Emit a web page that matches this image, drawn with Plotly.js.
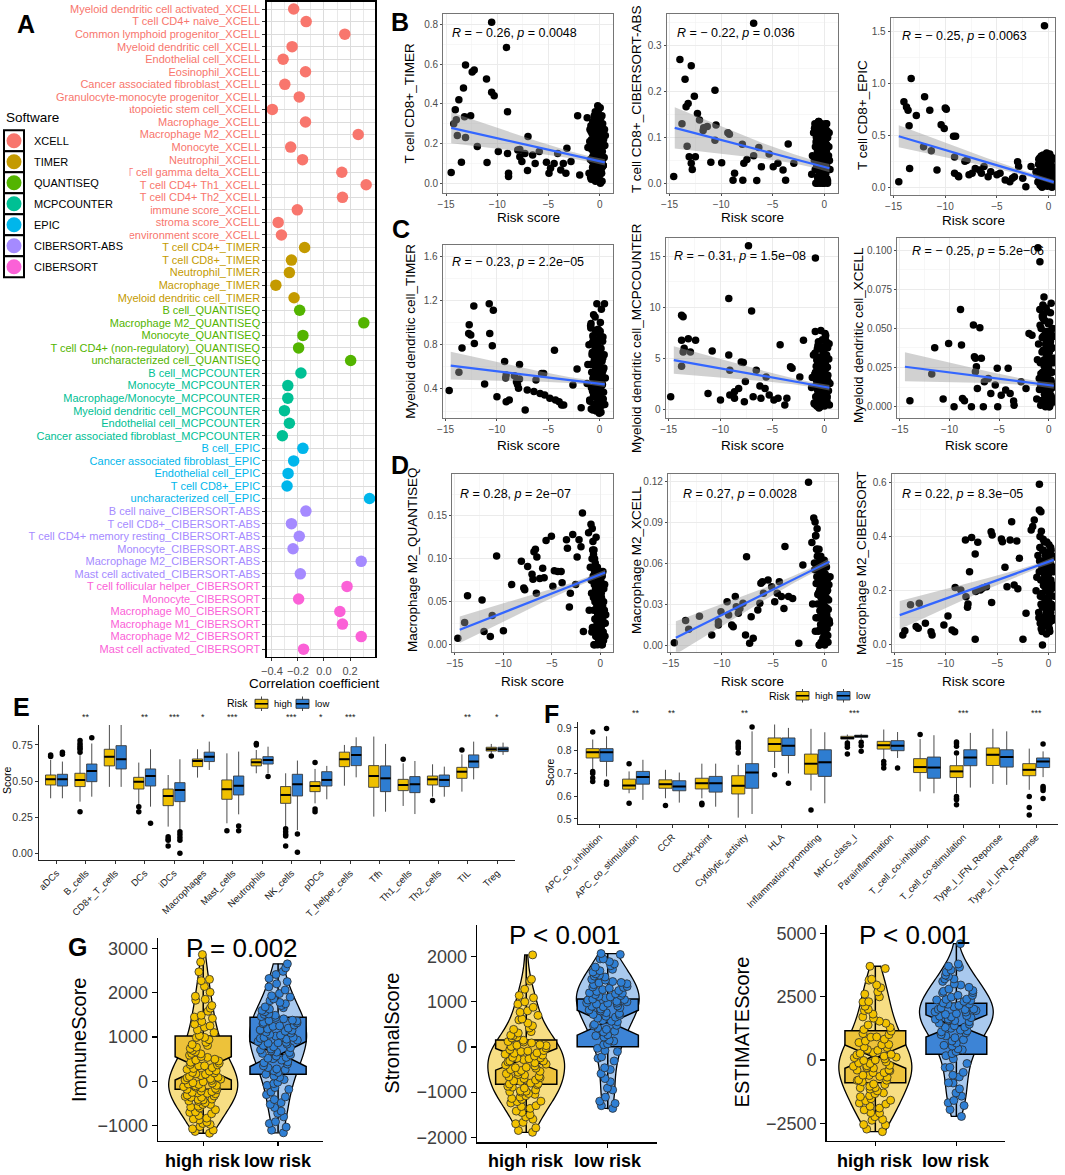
<!DOCTYPE html>
<html><head><meta charset="utf-8">
<script src="https://cdn.plot.ly/plotly-3.0.1.min.js"></script>
<style>body{margin:0;background:#fff}#chart{width:1065px;height:1175px}</style>
</head><body><div id="chart"></div>
<script>
const W=1065,H=1175;
const FONT='Liberation Sans, Arial, Helvetica, sans-serif';
function X(px){return px/W;}
function Y(py){return 1-py/H;}

// ---------------- Panel A data ----------------
const aLabels=['Myeloid dendritic cell activated_XCELL','T cell CD4+ naive_XCELL','Common lymphoid progenitor_XCELL','Myeloid dendritic cell_XCELL','Endothelial cell_XCELL','Eosinophil_XCELL','Cancer associated fibroblast_XCELL','Granulocyte-monocyte progenitor_XCELL','Hematopoietic stem cell_XCELL','Macrophage_XCELL','Macrophage M2_XCELL','Monocyte_XCELL','Neutrophil_XCELL','T cell gamma delta_XCELL','T cell CD4+ Th1_XCELL','T cell CD4+ Th2_XCELL','immune score_XCELL','stroma score_XCELL','microenvironment score_XCELL',
'T cell CD4+_TIMER','T cell CD8+_TIMER','Neutrophil_TIMER','Macrophage_TIMER','Myeloid dendritic cell_TIMER',
'B cell_QUANTISEQ','Macrophage M2_QUANTISEQ','Monocyte_QUANTISEQ','T cell CD4+ (non-regulatory)_QUANTISEQ','uncharacterized cell_QUANTISEQ',
'B cell_MCPCOUNTER','Monocyte_MCPCOUNTER','Macrophage/Monocyte_MCPCOUNTER','Myeloid dendritic cell_MCPCOUNTER','Endothelial cell_MCPCOUNTER','Cancer associated fibroblast_MCPCOUNTER',
'B cell_EPIC','Cancer associated fibroblast_EPIC','Endothelial cell_EPIC','T cell CD8+_EPIC','uncharacterized cell_EPIC',
'B cell naive_CIBERSORT-ABS','T cell CD8+_CIBERSORT-ABS','T cell CD4+ memory resting_CIBERSORT-ABS','Monocyte_CIBERSORT-ABS','Macrophage M2_CIBERSORT-ABS','Mast cell activated_CIBERSORT-ABS',
'T cell follicular helper_CIBERSORT','Monocyte_CIBERSORT','Macrophage M0_CIBERSORT','Macrophage M1_CIBERSORT','Macrophage M2_CIBERSORT','Mast cell activated_CIBERSORT'];
const aCorr=[-0.233,-0.137,0.16,-0.245,-0.314,-0.142,-0.301,-0.19,-0.397,-0.142,0.263,-0.256,-0.165,0.137,0.324,0.142,-0.205,-0.352,-0.327,
-0.149,-0.25,-0.266,-0.37,-0.23,
-0.187,0.306,-0.162,-0.195,0.205,
-0.177,-0.278,-0.278,-0.304,-0.266,-0.32,
-0.162,-0.233,-0.276,-0.284,0.35,
-0.139,-0.25,-0.19,-0.238,0.286,-0.182,
0.177,-0.195,0.122,0.142,0.286,-0.157];
const softwareNames=['XCELL','TIMER','QUANTISEQ','MCPCOUNTER','EPIC','CIBERSORT-ABS','CIBERSORT'];
const softwareColors=['#F8766D','#C49A00','#53B400','#00C094','#00B6EB','#A58AFF','#FB61D7'];

// ---------------- Panels B-D data ----------------
// risk scores of the dense group of samples near zero (same samples in every panel)
const clusterRisk=[-1.22,-1.04,-0.97,-0.91,-0.86,-0.82,-0.77,-0.74,-0.69,-0.66,
-0.63,-0.59,-0.56,-0.52,-0.49,-0.46,-0.43,-0.41,-0.37,-0.34,
-0.32,-0.29,-0.27,-0.24,-0.21,-0.19,-0.16,-0.13,-0.11,-0.08,
-0.06,-0.03,0.01,0.03,0.07,0.09,0.12,0.16,0.19,0.22,
0.27,0.31,0.35,0.41,0.47,0.55,-0.71,-0.53,-0.39,-0.22,
-0.09,0.05,0.14,0.24,-0.6,
-1.15,-0.95,-0.88,-0.8,-0.72,-0.67,-0.61,-0.57,-0.5,-0.44,-0.4,-0.35,-0.31,-0.26,-0.23,-0.18,-0.14,-0.1,-0.07,-0.04,-0.01,0.02,0.04,0.08,0.11,0.13,0.17,0.2,0.23,0.26,0.29,0.33,0.38,0.44,0.5,-0.84,-0.64,-0.47,-0.33,-0.2,-0.12,0.0,0.1,0.21,0.32];

const b1x=[-14.5,-14.25,-14.1,-14.0,-13.9,-13.75,-13.5,-13.3,-13.2,-13.1,-13.1,-12.6,-12.45,-12.25,-11.95,-11.05,-11.0,-10.55,-10.3,-10.55,-9.9,-9.1,-9.0,-9.0,-8.9,-8.9,-8.0,-7.8,-7.8,-7.6,-7.3,-7.0,-7.05,-6.55,-6.3,-5.9,-5.2,-4.95,-4.8,-4.45,-4.1,-3.8,-3.55,-3.3,-3.2,-2.8,-2.15,-1.95];
const b1y=[0.054,0.30,0.37,0.32,0.24,0.42,0.106,0.48,0.335,0.595,0.23,0.34,0.56,0.57,0.185,0.525,0.104,0.458,0.44,0.81,0.16,0.684,0.36,0.15,0.05,0.034,0.168,0.17,0.134,0.11,0.15,0.235,0.064,0.142,0.1,0.16,0.106,0.05,0.075,0.1,0.15,0.067,0.1,0.05,0.176,0.11,0.34,0.042];
const b1c=[0.33,0.05,0.21,0.12,0.29,0.02,0.17,0.25,0.08,0.31,0.14,0.22,0.04,0.27,0.11,0.19,0.36,0.01,0.24,0.09,0.15,0.3,0.06,0.2,0.13,0.39,0.03,0.26,0.1,0.18,0.23,0.07,0.32,0.14,0.0,0.28,0.16,0.21,0.05,0.34,0.12,0.25,0.09,0.19,0.27,0.24,0.11,0.34,0.06,0.28,0.13,0.38,0.2,0.08,0.17,
0.18,0.27,0.03,0.22,0.13,0.31,0.07,0.19,0.24,0.02,0.29,0.15,0.21,0.35,0.08,0.26,0.12,0.3,0.04,0.17,0.23,0.1,0.28,0.14,0.33,0.06,0.2,0.25,0.01,0.16,0.3,0.09,0.22,0.13,0.19,0.26,0.07,0.32,0.15,0.11,0.37,0.04,0.24,0.18,0.09];

const b2x=[-14.6,-14.0,-13.8,-13.5,-13.4,-13.3,-13.2,-13.1,-12.9,-12.9,-12.8,-12.6,-12.5,-12.3,-12.1,-11.75,-11.7,-11.35,-11.0,-10.6,-10.5,-10.6,-9.95,-9.35,-9.2,-8.85,-8.7,-7.95,-7.9,-7.8,-7.5,-6.85,-6.85,-6.55,-6.35,-6.1,-5.35,-4.95,-4.5,-4.0,-3.75,-3.5,-2.95];
const b2y=[0.015,0.27,0.13,0.227,0.167,0.081,0.174,0.058,0.044,0.256,0.03,0.19,0.058,0.152,0.138,0.115,0.121,0.124,0.046,0.203,0.127,0.094,0.045,0.11,0.107,0.007,0.022,0.085,0.007,0.044,0.052,0.349,0.06,0.006,0.078,0.036,0.064,0.036,0.044,0.029,0.007,0.086,0.044];
const b2c=[0.02,0.11,0.05,0.13,0.08,0.0,0.1,0.04,0.12,0.07,0.01,0.09,0.135,0.06,0.03,0.11,0.08,0.0,0.125,0.05,0.1,0.02,0.07,0.13,0.04,0.09,0.0,0.115,0.06,0.03,0.105,0.08,0.01,0.12,0.05,0.09,0.02,0.13,0.07,0.04,0.1,0.0,0.08,0.06,0.11,0.03,0.085,0.135,0.045,0.015,0.095,0.06,0.025,0.115,0.07,
0.06,0.12,0.03,0.09,0.11,0.0,0.07,0.13,0.04,0.1,0.02,0.08,0.12,0.05,0.095,0.01,0.065,0.11,0.035,0.085,0.0,0.125,0.055,0.09,0.02,0.105,0.04,0.075,0.13,0.01,0.06,0.1,0.03,0.08,0.05,0.115,0.015,0.07,0.095,0.045,0.025,0.12,0.055,0.085,0.005];

const b3x=[-14.5,-14.0,-13.75,-13.6,-13.5,-13.45,-13.3,-12.8,-12.1,-12.0,-11.5,-11.35,-10.8,-10.4,-10.1,-10.0,-9.9,-9.2,-9.0,-9.1,-9.1,-8.75,-8.7,-8.1,-7.9,-7.7,-7.4,-7.1,-6.7,-6.5,-6.25,-5.85,-5.6,-5.0,-4.7,-4.2,-3.75,-3.5,-3.3,-3.0,-2.9,-2.5,-2.2,-1.7,-0.4];
const b3y=[0.054,0.82,0.77,0.74,0.59,0.18,1.045,0.69,0.39,0.87,0.74,0.35,0.166,0.6,0.565,0.76,0.75,0.49,0.49,0.29,0.134,0.11,0.1,0.25,0.26,0.12,0.134,0.18,0.166,0.134,0.2,0.1,0.15,0.12,0.134,0.07,0.054,0.086,0.1,0.246,0.2,0.086,0.006,0.2,1.55];
const b3c=[0.15,0.05,0.22,0.1,0.28,0.02,0.18,0.08,0.25,0.12,0.0,0.2,0.06,0.31,0.14,0.03,0.17,0.24,0.09,0.11,0.27,0.04,0.19,0.13,0.07,0.33,0.16,0.01,0.21,0.1,0.05,0.26,0.14,0.08,0.18,0.02,0.23,0.12,0.06,0.29,0.15,0.09,0.2,0.03,0.11,0.07,0.3,0.17,0.04,0.13,0.22,0.08,0.16,0.1,0.25,
0.12,0.27,0.06,0.19,0.23,0.01,0.15,0.3,0.09,0.21,0.04,0.17,0.26,0.11,0.08,0.24,0.02,0.18,0.13,0.29,0.05,0.22,0.1,0.16,0.32,0.07,0.2,0.14,0.03,0.25,0.11,0.19,0.06,0.28,0.15,0.09,0.21,0.04,0.17,0.12,0.23,0.08,0.31,0.13,0.0];

const c1x=[-14.65,-13.7,-13.4,-12.7,-12.75,-12.55,-12.25,-12.2,-11.2,-10.75,-10.7,-10.45,-10.35,-10.0,-9.25,-9.1,-8.8,-9.15,-9.1,-8.3,-8.1,-8.0,-7.9,-7.8,-7.8,-7.25,-7.05,-6.4,-6.2,-5.8,-5.65,-5.45,-5.35,-4.85,-4.4,-4.3,-3.95,-3.7,-3.5,-2.6,-2.2,-1.8];
const c1y=[0.385,0.55,0.77,0.98,0.9,0.887,1.15,0.81,0.445,1.17,0.9,0.79,1.11,0.33,0.647,0.285,0.3,0.5,0.526,0.52,0.466,0.44,0.406,0.62,0.49,0.21,0.39,0.376,0.48,0.36,0.54,0.54,0.346,0.316,0.75,0.3,0.285,0.256,0.256,0.436,0.58,0.23];
const c1c=[0.45,0.8,0.3,0.62,0.95,0.22,0.55,0.71,0.38,0.88,0.5,1.07,0.26,0.66,0.42,0.78,0.33,0.93,0.58,0.2,0.69,0.47,1.17,0.36,0.84,0.52,0.28,0.74,0.6,0.4,0.9,0.18,0.64,0.48,1.0,0.35,0.76,0.56,0.25,0.86,0.44,0.68,0.31,0.59,1.17,0.5,0.82,0.39,0.72,0.24,0.63,0.92,0.46,0.54,0.34,
0.62,0.29,0.97,0.41,0.73,0.21,0.86,0.52,0.35,1.05,0.47,0.66,0.27,0.81,0.56,0.39,0.94,0.23,0.7,0.44,0.6,0.32,0.89,0.5,0.77,0.19,1.12,0.43,0.65,0.3,0.83,0.57,0.37,0.71,0.26,0.99,0.49,0.61,0.34,0.79,0.53,0.22,0.68,0.45,0.87];

const c2x=[-14.8,-13.75,-13.6,-13.75,-13.6,-13.75,-13.5,-13.1,-12.9,-12.4,-11.2,-10.8,-10.0,-9.2,-9.2,-9.1,-9.1,-8.65,-8.65,-8.25,-8.0,-7.8,-7.7,-7.6,-7.3,-7.0,-6.85,-6.55,-6.2,-6.1,-5.7,-5.6,-5.3,-4.85,-4.45,-4.25,-3.8,-3.6,-3.25,-3.1,-2.35,-2.0,-0.85];
const c2y=[1.2,9.2,9.05,6.75,5.6,4.2,5.95,6.9,5.6,6.75,1.53,5.7,0.88,10.85,5.3,3.8,1.37,1.7,1.05,2.0,4.6,4.55,0.72,2.7,16.0,9.6,1.2,3.8,2.25,1.05,2.0,3.15,1.37,0.88,1.05,6.3,0.4,1.05,4.15,4.0,3.15,6.75,14.8];
const c2c=[2.1,5.3,0.6,3.4,7.6,1.2,4.2,2.8,0.3,5.9,3.0,1.7,6.6,0.9,4.7,2.4,3.8,0.2,5.1,1.5,7.7,2.6,4.4,0.8,3.2,6.1,1.9,0.4,5.6,2.9,3.6,1.1,4.9,2.2,0.5,6.9,3.9,1.4,2.7,5.2,0.7,4.1,3.3,1.8,6.4,2.5,0.3,4.6,1.6,3.5,5.8,2.0,7.2,1.0,4.3,
3.1,0.5,5.5,2.3,4.8,1.3,6.2,3.7,0.1,2.9,4.5,1.8,5.0,0.6,3.4,6.8,2.0,4.0,1.0,5.7,2.6,0.3,3.9,7.4,1.5,4.4,2.2,0.8,5.3,3.0,1.2,6.0,2.7,4.9,0.4,3.6,1.9,5.9,2.4,0.9,4.2,3.3,1.6,6.6,2.8];

const c3x=[-14.0,-11.8,-11.5,-10.65,-10.1,-9.55,-8.9,-8.8,-8.7,-8.5,-7.8,-7.6,-7.5,-7.4,-7.3,-7.2,-7.4,-6.95,-6.8,-6.5,-6.6,-6.1,-5.85,-5.4,-5.2,-5.15,-4.8,-4.35,-4.1,-3.9,-3.55,-3.5,-2.8,-2.3,-2.0,-1.7,-1.1,-0.9];
const c3y=[0.0038,0.0209,0.0377,0.0049,0.0404,0.0,0.0621,0.0394,0.0053,0.0038,0.0,0.0521,0.0319,0.0309,0.0255,0.0117,0.0223,0.0504,0.0309,0.016,0.0,0.018,0.0085,0.0138,0.0245,0.0,0.0074,0.0106,0.0245,0.0085,0.0036,0.001,0.016,0.0117,0.0468,0.0457,0.1015,0.0926];
const c3c=[0.005,0.04,0.018,0.062,0.028,0.001,0.05,0.012,0.035,0.058,0.022,0.003,0.045,0.015,0.07,0.03,0.008,0.055,0.025,0.0,0.04,0.012,0.063,0.02,0.033,0.006,0.048,0.017,0.038,0.002,0.053,0.026,0.01,0.043,0.0,0.031,0.015,0.06,0.022,0.007,0.037,0.05,0.004,0.028,0.013,0.045,0.019,0.056,0.009,0.034,0.024,0.001,0.041,0.016,0.065,
0.03,0.011,0.052,0.021,0.004,0.044,0.016,0.036,0.059,0.008,0.027,0.048,0.002,0.039,0.019,0.061,0.013,0.032,0.005,0.046,0.024,0.0,0.035,0.054,0.01,0.029,0.042,0.017,0.066,0.006,0.038,0.022,0.05,0.003,0.031,0.014,0.057,0.026,0.009,0.043,0.02,0.034,0.001,0.047,0.012];

const d1x=[-14.7,-14.0,-13.7,-12.2,-12.0,-11.35,-11.15,-10.7,-10.0,-9.15,-8.15,-7.9,-7.8,-7.5,-7.05,-6.95,-6.85,-6.7,-6.6,-6.55,-6.25,-5.95,-5.8,-5.6,-5.05,-4.9,-4.75,-4.4,-4.05,-3.95,-3.5,-3.4,-3.1,-3.2,-2.85,-2.55,-2.4,-2.2,-2.0,-1.85,-1.75];
const d1y=[0.0077,0.026,0.057,0.052,0.0155,0.0097,0.034,0.103,0.0162,0.07,0.097,0.066,0.064,0.091,0.082,0.076,0.108,0.111,0.06,0.102,0.077,0.089,0.078,0.121,0.126,0.068,0.086,0.085,0.085,0.072,0.122,0.112,0.06,0.044,0.128,0.07,0.102,0.122,0.114,0.153,0.0155];
const d1c=[0.13,0.09,0.14,0.06,0.1,0.02,0.12,0.08,0.04,0.11,0.07,0.0,0.05,0.09,0.03,0.065,0.01,0.08,0.045,0.025,0.06,0.0,0.035,0.075,0.015,0.05,0.085,0.03,0.005,0.055,0.04,0.02,0.07,0.01,0.045,0.06,0.0,0.03,0.08,0.015,0.05,0.025,0.065,0.04,0.01,0.035,0.105,0.095,0.055,0.02,0.045,0.005,0.07,0.03,0.1,
0.04,0.075,0.015,0.11,0.055,0.0,0.085,0.03,0.065,0.125,0.02,0.05,0.09,0.035,0.07,0.005,0.045,0.08,0.025,0.06,0.01,0.04,0.075,0.02,0.055,0.03,0.065,0.0,0.045,0.085,0.015,0.05,0.035,0.07,0.025,0.135,0.06,0.01,0.04,0.08,0.02,0.055,0.03,0.065,0.005];

const d2x=[-14.65,-13.55,-13.25,-12.2,-11.0,-10.35,-10.35,-10.1,-9.5,-9.35,-9.05,-8.9,-8.7,-8.6,-8.4,-8.25,-7.95,-7.6,-7.7,-7.3,-7.15,-6.95,-6.5,-6.3,-6.2,-6.05,-5.95,-5.5,-5.15,-4.85,-4.6,-4.4,-4.2,-3.95,-3.85,-3.5,-3.1,-2.5,-2.1,-1.55];
const d2y=[0.0017,0.018,0.0115,0.021,0.0073,0.017,0.0146,0.0244,0.0317,0.022,0.0146,0.0134,0.0354,0.028,0.0232,0.0268,0.0305,0.0646,0.0073,0.0012,0.0207,0.0049,0.0256,0.0305,0.0451,0.0463,0.0378,0.0476,0.0427,0.0317,0.0378,0.0463,0.0354,0.0268,0.072,0.0354,0.0341,0.0012,0.0585,0.119];
const d2c=[0.075,0.093,0.06,0.09,0.08,0.02,0.07,0.05,0.065,0.03,0.055,0.01,0.045,0.06,0.0,0.04,0.025,0.052,0.015,0.035,0.002,0.048,0.028,0.062,0.01,0.038,0.02,0.055,0.005,0.042,0.03,0.015,0.05,0.0,0.035,0.022,0.058,0.008,0.045,0.027,0.012,0.04,0.002,0.033,0.018,0.05,0.085,0.07,0.042,0.024,0.036,0.006,0.047,0.016,0.065,
0.03,0.055,0.01,0.045,0.07,0.02,0.06,0.038,0.0,0.05,0.025,0.065,0.012,0.042,0.032,0.058,0.005,0.047,0.018,0.036,0.062,0.009,0.028,0.052,0.015,0.04,0.003,0.057,0.022,0.034,0.048,0.007,0.026,0.044,0.016,0.08,0.037,0.011,0.053,0.023,0.031,0.046,0.004,0.039,0.019];

const d3x=[-14.2,-14.0,-13.45,-12.9,-12.7,-12.6,-12.0,-11.45,-11.35,-10.2,-9.8,-9.4,-9.15,-9.1,-8.55,-8.1,-8.05,-7.9,-7.85,-7.7,-7.5,-7.15,-7.15,-7.1,-6.9,-6.65,-6.45,-6.05,-5.6,-5.5,-5.55,-4.6,-4.5,-4.25,-4.05,-3.75,-3.6,-3.35,-3.1,-3.0,-2.85,-2.5,-2.2,-1.7,-1.55,-1.4,-0.9,-0.9,-0.75];
const d3y=[0.037,0.052,0.148,0.068,0.062,0.154,0.08,0.049,0.037,0.074,0.107,0.055,0.049,0.212,0.203,0.387,0.178,0.139,0.151,0.27,0.397,0.336,0.021,0.197,0.379,0.203,0.209,0.215,0.418,0.406,0.157,0.391,0.381,0.287,0.215,0.387,0.455,0.221,0.384,0.207,0.32,0.021,0.117,0.424,0.437,0.461,0.593,0.498,0.492];
const d3c=[0.2,0.33,0.12,0.27,0.36,0.08,0.24,0.15,0.31,0.19,0.05,0.28,0.1,0.35,0.22,0.14,0.38,0.07,0.25,0.17,0.3,0.11,0.21,0.34,0.04,0.26,0.16,0.29,0.09,0.23,0.32,0.13,0.18,0.37,0.06,0.27,0.2,0.12,0.3,0.24,0.15,0.33,0.1,0.22,0.28,0.18,0.42,0.39,0.26,0.14,0.31,0.08,0.2,0.35,0.0,
0.25,0.1,0.31,0.18,0.06,0.29,0.14,0.35,0.22,0.09,0.27,0.16,0.33,0.2,0.12,0.38,0.24,0.07,0.3,0.17,0.26,0.11,0.34,0.19,0.05,0.28,0.13,0.36,0.23,0.15,0.32,0.09,0.21,0.27,0.14,0.4,0.18,0.3,0.08,0.25,0.33,0.16,0.22,0.12,0.29];

// fitted regression lines and 95% bands
const fitX=[-14.5,-10,-6,-3,-1,0.5];
const b1Fit=[0.279,0.227,0.180,0.145,0.122,0.105], b1Lo=[0.201,0.175,0.150,0.127,0.108,0.089], b1Hi=[0.357,0.279,0.210,0.163,0.136,0.121];
const b2Fit=[0.121,0.095,0.071,0.054,0.042,0.033], b2Lo=[0.076,0.065,0.054,0.044,0.034,0.024], b2Hi=[0.166,0.125,0.088,0.064,0.050,0.042];
const b3Fit=[0.49,0.358,0.241,0.153,0.094,0.05], b3Lo=[0.385,0.288,0.201,0.129,0.076,0.03], b3Hi=[0.595,0.428,0.281,0.177,0.112,0.07];
const c1Fit=[0.61,0.56,0.515,0.481,0.459,0.442], c1Lo=[0.485,0.477,0.467,0.453,0.437,0.417], c1Hi=[0.735,0.643,0.563,0.509,0.481,0.467];
const c2Fit=[4.8,3.99,3.27,2.72,2.36,2.09], c2Lo=[3.45,3.09,2.75,2.42,2.12,1.82], c2Hi=[6.15,4.89,3.79,3.02,2.6,2.36];
const c3Fit=[0.0255,0.0219,0.0187,0.0162,0.0146,0.0134], c3Lo=[0.0162,0.0157,0.0151,0.0141,0.0129,0.0115], c3Hi=[0.0348,0.0281,0.0223,0.0183,0.0163,0.0153];
const d1Fit=[0.0175,0.0374,0.0551,0.0684,0.0773,0.0839], d1Lo=[0.002,0.0269,0.0491,0.0649,0.0745,0.0807], d1Hi=[0.033,0.0479,0.0611,0.0719,0.0801,0.0871];
const d2Fit=[0.0053,0.022,0.0368,0.048,0.0554,0.061], d2Lo=[-0.0067,0.014,0.0322,0.0453,0.0533,0.0586], d2Hi=[0.0173,0.03,0.0414,0.0507,0.0575,0.0634];
const d3Fit=[0.11,0.171,0.226,0.266,0.293,0.314], d3Lo=[0.058,0.136,0.206,0.254,0.284,0.303], d3Hi=[0.162,0.206,0.246,0.278,0.302,0.325];

const corrLabels=['<i>R</i> = − 0.26, <i>p</i> = 0.0048','<i>R</i> = − 0.22, <i>p</i> = 0.036','<i>R</i> = − 0.25, <i>p</i> = 0.0063',
'<i>R</i> = − 0.23, <i>p</i> = 2.2e−05','<i>R</i> = − 0.31, <i>p</i> = 1.5e−08','<i>R</i> = − 0.25, <i>p</i> = 5.2e−06',
'<i>R</i> = 0.28, <i>p</i> = 2e−07','<i>R</i> = 0.27, <i>p</i> = 0.0028','<i>R</i> = 0.22, <i>p</i> = 8.3e−05'];
const cellTitles=['T cell CD8+_TIMER','T cell CD8+_CIBERSORT-ABS','T cell CD8+_EPIC','Myeloid dendritic cell_TIMER','Myeloid dendritic cell_MCPCOUNTER','Myeloid dendritic cell_XCELL','Macrophage M2_QUANTISEQ','Macrophage M2_XCELL','Macrophage M2_CIBERSORT'];

// ---------------- Panel E data ----------------
const eCats=['aDCs','B_cells','CD8+_T_cells','DCs','iDCs','Macrophages','Mast_cells','Neutrophils','NK_cells','pDCs','T_helper_cells','Tfh','Th1_cells','Th2_cells','TIL','Treg'];
const eStars=['','**','','**','***','*','***','','***','*','***','','','','**','*'];
const eHighQ1=[0.473,0.462,0.605,0.445,0.33,0.6,0.374,0.605,0.346,0.427,0.60,0.457,0.434,0.473,0.519,0.708];
const eHighMed=[0.512,0.508,0.669,0.496,0.397,0.639,0.443,0.63,0.404,0.466,0.651,0.535,0.473,0.512,0.565,0.72];
const eHighQ3=[0.542,0.554,0.72,0.526,0.445,0.653,0.508,0.653,0.462,0.496,0.70,0.607,0.512,0.535,0.595,0.734];
const eHighLo=[0.381,0.358,0.46,0.335,0.185,0.524,0.208,0.554,0.185,0.346,0.468,0.254,0.328,0.392,0.427,0.692];
const eHighHi=[0.646,0.68,0.888,0.628,0.542,0.72,0.692,0.715,0.554,0.584,0.75,0.808,0.623,0.616,0.685,0.757];
const eHighOut=[[0.68,0.67],[0.78,0.76,0.745,0.73,0.72,0.70,0.288],[],[0.323,0.288],[0.115,0.10,0.09,0.05],[],[0.157],[0.76,0.75],[0.17,0.15,0.13,0.12,0.05],[0.628,0.307,0.288],[],[],[0.651],[0.365],[0.715],[0.674]];
const eLowQ1=[0.466,0.496,0.584,0.466,0.358,0.635,0.404,0.618,0.397,0.466,0.607,0.427,0.42,0.462,0.593,0.704];
const eLowMed=[0.512,0.57,0.651,0.535,0.438,0.669,0.468,0.646,0.478,0.508,0.681,0.519,0.478,0.508,0.635,0.72];
const eLowQ3=[0.547,0.618,0.745,0.584,0.489,0.70,0.535,0.669,0.547,0.565,0.738,0.605,0.531,0.542,0.681,0.734];
const eLowLo=[0.381,0.392,0.46,0.323,0.16,0.577,0.27,0.554,0.16,0.374,0.526,0.288,0.272,0.392,0.512,0.681];
const eLowHi=[0.635,0.76,0.888,0.72,0.651,0.773,0.704,0.738,0.642,0.605,0.803,0.757,0.639,0.60,0.773,0.766];
const eLowOut=[[0.70,0.685],[0.80],[],[0.208],[0.15,0.13,0.11,0.09,0.0],[],[0.19,0.157],[0.531],[0.134,0.007],[],[],[],[],[],[],[]];

// ---------------- Panel F data ----------------
const fCats=['APC_co_inhibition','APC_co_stimulation','CCR','Check-point','Cytolytic_activity','HLA','Inflammation-promoting','MHC_class_I','Parainflammation','T_cell_co-inhibition','T_cell_co-stimulation','Type_I_IFN_Reponse','Type_II_IFN_Reponse'];
const fStars=['','**','**','','**','','','***','','','***','','***'];
const fHighQ1=[0.768,0.631,0.635,0.632,0.61,0.797,0.697,0.851,0.807,0.704,0.682,0.735,0.69];
const fHighMed=[0.793,0.647,0.653,0.657,0.646,0.829,0.743,0.856,0.824,0.728,0.709,0.782,0.716];
const fHighQ3=[0.809,0.675,0.672,0.679,0.69,0.856,0.785,0.863,0.841,0.765,0.734,0.812,0.743];
const fHighLo=[0.716,0.613,0.591,0.591,0.506,0.724,0.625,0.841,0.76,0.621,0.613,0.654,0.628];
const fHighHi=[0.849,0.709,0.716,0.743,0.738,0.915,0.896,0.871,0.893,0.851,0.778,0.896,0.809];
const fHighOut=[[0.882,0.709,0.70,0.68,0.665],[0.743,0.569],[0.559],[0.569,0.562],[0.837,0.83,0.82,0.81,0.79],[0.694],[0.54],[0.834,0.825,0.815,0.785],[0.753,0.74,0.724],[0.871],[0.838,0.83,0.82,0.79,0.599,0.59,0.585,0.562],[],[0.599,0.551,0.518]];
const fLowQ1=[0.753,0.653,0.624,0.618,0.635,0.779,0.687,0.859,0.80,0.679,0.734,0.728,0.726];
const fLowMed=[0.793,0.684,0.643,0.657,0.704,0.822,0.749,0.863,0.822,0.726,0.77,0.772,0.753];
const fLowQ3=[0.809,0.709,0.668,0.687,0.743,0.856,0.804,0.868,0.844,0.772,0.804,0.804,0.768];
const fLowLo=[0.687,0.584,0.572,0.554,0.522,0.70,0.569,0.849,0.768,0.613,0.638,0.65,0.684];
const fLowHi=[0.863,0.76,0.704,0.743,0.885,0.90,0.881,0.874,0.882,0.868,0.878,0.885,0.797];
const fLowOut=[[0.897,0.662,0.653],[],[],[],[0.904],[0.657],[],[0.837,0.822,0.797],[0.724],[],[],[],[0.829,0.643,0.635,0.625,0.59]];

// ---------------- Panel G data ----------------
const gCats=['high risk','low risk'];
const immuneHigh=[2860,2690,2470,2270,2140,2010,1920,1830,1710,1650,1580,1490,1420,1350,1290,1220,1160,1100,1030,990,940,880,830,770,740,670,630,590,540,500,460,430,380,350,310,270,230,200,160,110,90,50,20,-10,-40,-70,-100,-120,-160,-190,-220,-250,-270,-310,-340,-360,-410,-440,-480,-520,-560,-600,-640,-690,-730,-770,-830,-870,-920,-970,-1020,-1070,-1130,-1170,170,370,560,30,-130,-360,
620,480,350,240,130,60,-30,-90,-150,-230,-280,-330,-400,-450,-520,-580,810,700,410,290,190,80,-60,-180,-260,-420,-700,-850,1250,1450,1850,2300,-950,-1100,990];
const immuneLow=[2650,2560,2410,2320,2200,2130,2060,1980,1930,1860,1820,1750,1710,1660,1600,1570,1510,1490,1440,1380,1360,1300,1270,1240,1180,1160,1110,1060,1040,990,950,930,870,840,810,760,710,690,630,600,540,510,440,390,350,280,240,160,120,40,-20,-90,-140,-240,-300,-410,-480,-590,-670,-800,-910,-1030,-1160,1460,1250,1090,880,660,1630,1330,
1520,1410,1320,1200,1130,1020,970,900,780,730,650,570,480,420,310,200,90,-50,-180,1680,1780,1900,2250,-350,-520,-720,-950,1150,860,520,260,2480,-1100,1370,990];
const stromalHigh=[2040,1500,1460,1140,1090,950,880,770,700,620,530,470,390,340,260,220,150,110,50,30,-20,-80,-100,-160,-180,-240,-250,-310,-330,-380,-400,-450,-470,-520,-540,-590,-610,-660,-680,-730,-750,-800,-820,-870,-890,-950,-970,-1030,-1050,-1110,-1140,-1210,-1240,-1320,-1360,-1450,-1500,-1600,-1670,-1790,-1890,-460,-310,-650,-810,-130,90,-990,-1160,310,
-200,-260,-140,-60,10,120,200,-350,-420,-500,-560,-620,-700,-760,-840,-910,-980,-1080,-1200,-1300,-1420,-1550,-1700,-1850,-280,-230,-90,40,250,420,600,800,1000,1280,-1000];
const stromalLow=[2070,2050,1950,1890,1800,1770,1690,1660,1590,1570,1500,1480,1420,1400,1340,1320,1270,1250,1190,1180,1120,1110,1050,1040,980,970,910,890,840,820,760,740,680,660,590,570,500,470,390,350,270,220,130,70,-30,-100,-220,-310,-460,-590,-770,-910,-1110,-1250,-1360,1140,1330,970,1430,1060,
1620,1550,1450,1380,1300,1230,1160,1090,1010,950,870,800,720,640,560,480,420,330,250,150,50,-80,-250,-500,-700,-950,-1200,-1300,1720,1840,1950,1000,1200,900,700];
const estimateHigh=[3700,3610,3190,2960,2690,2490,2290,2120,1950,1810,1650,1530,1380,1280,1140,1040,910,820,690,610,490,410,290,220,110,40,-70,-140,-250,-320,-430,-500,-610,-680,-790,-860,-970,-1040,-1150,-1220,-1330,-1410,-1530,-1610,-1740,-1830,-1970,-2080,-2240,-2380,-2570,-2730,-2830,-390,-810,-1090,90,510,-210,-1590,
380,260,150,-20,-120,-230,-300,600,750,900,1200,1450,1700,2000,2300,2600,2850,3150,-500,-650,-800,-950,-1100,-1300,-1450,-1700,-1900,-2100,-2350,-2550,0,200,-400,1000,-600];
const estimateLow=[4590,3790,3660,3470,3350,3200,3100,2960,2870,2740,2660,2550,2480,2370,2310,2210,2150,2050,1990,1890,1830,1730,1670,1570,1510,1410,1350,1250,1180,1070,1000,880,800,670,580,440,330,170,40,-140,-290,-490,-670,-910,-1140,-1430,-1690,-1960,-2230,2010,2390,1610,1290,2710,1110,
1900,1800,1700,1620,2000,2100,2250,2400,2550,2650,2800,3000,3300,3550,3700,1450,1300,1150,950,750,550,400,250,-300,-600,-900,-1300,-1600,-1800,2200,1750,1950,2350,1550,3200];
// box statistics: [high, low]
const gQ1={immune:[-180,158], stromal:[-827,7], estimate:[-895,223]};
const gMed={immune:[293,617], stromal:[-273,539], estimate:[131,1342]};
const gQ3={immune:[1023,1443], stromal:[155,1063], estimate:[1158,2236]};
const gLoW={immune:[-1170,-1150], stromal:[-1890,-1380], estimate:[-2830,-2238]};
const gHiW={immune:[2850,2650], stromal:[2037,2074], estimate:[3684,4590]};
const gNotch={immune:[263,282], stromal:[240,277], estimate:[460,440]};
const gPvals=['P = 0.002','P < 0.001','P < 0.001'];
const gTitles=['ImmuneScore','StromalScore','ESTIMATEScore'];

// ---------------- build ----------------
const data=[];
const shapes=[];
const annotations=[];
function ann(x,y,text,size,o){
  return Object.assign({xref:'paper',yref:'paper',x:X(x),y:Y(y),text:text,showarrow:false,
    font:{size:size,color:'black',family:FONT},xanchor:'center',yanchor:'middle'},o||{});
}
const layout={width:W,height:H,margin:{l:0,r:0,t:0,b:0},paper_bgcolor:'white',plot_bgcolor:'white',
  font:{family:FONT,color:'black'},showlegend:false,boxmode:'overlay',violinmode:'overlay',hovermode:false};

// Panel A
const aColor=aLabels.map(l=>softwareColors[softwareNames.indexOf(l.slice(l.lastIndexOf('_')+1))]);
data.push({type:'scatter',mode:'markers',x:aCorr,y:aLabels.map((_,i)=>i),xaxis:'x',yaxis:'y',
  marker:{size:11.5,color:aColor},cliponaxis:false});
layout.xaxis={domain:[X(267),X(375)],range:[-0.438,0.392],anchor:'y',tickmode:'linear',tick0:0,dtick:0.2,tickformat:'.1f',
  ticks:'outside',ticklen:3,tickcolor:'#333',tickfont:{size:11,color:'#4D4D4D'},showgrid:true,gridcolor:'#DCDCDC',gridwidth:1,
  minor:{dtick:0.1,tick0:0,showgrid:true,gridcolor:'#E4E4E4',gridwidth:0.8},
  showline:true,mirror:true,linecolor:'black',linewidth:1.6,zeroline:false};
layout.yaxis={domain:[Y(656.7),Y(1.5)],range:[51.6,-0.6],anchor:'x',tickmode:'array',tickvals:aLabels.map((_,i)=>i),
  ticktext:aLabels.map((l,i)=>'<span style="color:'+aColor[i]+'">'+l+'</span>'),
  ticks:'outside',ticklen:3,tickcolor:'#333',tickfont:{size:11},showgrid:true,gridcolor:'#DCDCDC',gridwidth:1,
  showline:true,mirror:true,linecolor:'black',linewidth:1.6,zeroline:false};
annotations.push(ann(314,683,'Correlation coefficient',13.5));
// legend for A (drawn on top of clipped labels)
shapes.push({type:'rect',xref:'paper',yref:'paper',x0:X(0),x1:X(129.5),y0:Y(102),y1:Y(283),fillcolor:'white',line:{width:0},layer:'above'});
annotations.push(ann(4,117,'Software',13.5,{xanchor:'left'}));
softwareNames.forEach((s,i)=>{
  const c=140.7+i*21;
  shapes.push({type:'rect',xref:'paper',yref:'paper',x0:X(4),x1:X(24),y0:Y(c+10.5),y1:Y(c-10.5),fillcolor:'white',line:{color:'black',width:2},layer:'above'});
  shapes.push({type:'circle',xref:'paper',yref:'paper',x0:X(14-7.5),x1:X(14+7.5),y0:Y(c+7.5),y1:Y(c-7.5),fillcolor:softwareColors[i],line:{width:0},layer:'above'});
  annotations.push(ann(32,c,s,11,{xanchor:'left'}));
});

// Panels B-D
const scatterCfg=[
 {xd:[443,613],yd:[14,193],xr:[-15.3,1.3],yr:[-0.049,0.852],dt:0.2,t0:0,fmt:'.1f',px:b1x,py:b1y,cy:b1c,f:b1Fit,lo:b1Lo,hi:b1Hi,tp:[450,33],yt:[409,103.5],xt:[528,218]},
 {xd:[666.5,837.7],yd:[14,193],xr:[-15.3,1.3],yr:[-0.021,0.369],dt:0.1,t0:0,fmt:'.1f',px:b2x,py:b2y,cy:b2c,f:b2Fit,lo:b2Lo,hi:b2Hi,tp:[675,33],yt:[636,100],xt:[752,218]},
 {xd:[890.5,1055],yd:[18,195],xr:[-15.3,0.62],yr:[-0.074,1.625],dt:0.5,t0:0,fmt:'.1f',px:b3x,py:b3y,cy:b3c,f:b3Fit,lo:b3Lo,hi:b3Hi,tp:[900,36],yt:[862,115],xt:[973,221]},
 {xd:[442.5,613],yd:[245,418.3],xr:[-15.3,1.3],yr:[0.135,1.70],dt:0.4,t0:0.4,fmt:'.1f',px:c1x,py:c1y,cy:c1c,f:c1Fit,lo:c1Lo,hi:c1Hi,tp:[450,261.7],yt:[411,331.7],xt:[528,446]},
 {xd:[665.5,837.7],yd:[237.7,418.3],xr:[-15.3,1.3],yr:[-0.91,16.8],dt:5,t0:0,fmt:'d',px:c2x,py:c2y,cy:c2c,f:c2Fit,lo:c2Lo,hi:c2Hi,tp:[672,256],yt:[636,338],xt:[752,446]},
 {xd:[897,1055],yd:[238.3,417.7],xr:[-15.3,0.62],yr:[-0.007,0.1075],dt:0.025,t0:0,fmt:'.3f',px:c3x,py:c3y,cy:c3c,f:c3Fit,lo:c3Lo,hi:c3Hi,tp:[910,250.7],yt:[858,335],xt:[976,446]},
 {xd:[452,613],yd:[474.3,651.7],xr:[-15.3,1.3],yr:[-0.008,0.198],dt:0.05,t0:0,fmt:'.2f',px:d1x,py:d1y,cy:d1c,f:d1Fit,lo:d1Lo,hi:d1Hi,tp:[458,494],yt:[412,560],xt:[532,681]},
 {xd:[667.7,837.7],yd:[474.3,651.7],xr:[-15.3,1.3],yr:[-0.0049,0.1249],dt:0.03,t0:0,fmt:'.2f',px:d2x,py:d2y,cy:d2c,f:d2Fit,lo:d2Lo,hi:d2Hi,tp:[681,494],yt:[636,560],xt:[752,681]},
 {xd:[891.5,1055],yd:[474.3,651.7],xr:[-15.3,0.62],yr:[-0.025,0.63],dt:0.2,t0:0,fmt:'.1f',px:d3x,py:d3y,cy:d3c,f:d3Fit,lo:d3Lo,hi:d3Hi,tp:[900,494],yt:[861,563],xt:[973,681]}
];
scatterCfg.forEach((c,k)=>{
  const n=k+2, xa='x'+n, ya='y'+n;
  data.push({type:'scatter',mode:'markers',x:c.px.concat(clusterRisk),y:c.py.concat(c.cy),xaxis:xa,yaxis:ya,
    marker:{size:7.5,color:'black'}});
  data.push({type:'scatter',mode:'lines',x:fitX.concat(fitX.slice().reverse()),y:c.hi.concat(c.lo.slice().reverse()),
    xaxis:xa,yaxis:ya,fill:'toself',fillcolor:'rgba(153,153,153,0.45)',line:{width:0}});
  data.push({type:'scatter',mode:'lines',x:fitX,y:c.f,xaxis:xa,yaxis:ya,line:{color:'#3366FF',width:2.2}});
  layout['xaxis'+n]={domain:[X(c.xd[0]),X(c.xd[1])],range:c.xr,anchor:ya,tickmode:'linear',tick0:-15,dtick:5,
    ticks:'outside',ticklen:2,tickcolor:'#4D4D4D',tickfont:{size:10,color:'#4D4D4D'},
    showgrid:true,gridcolor:'#EBEBEB',gridwidth:1,minor:{dtick:2.5,tick0:-15,showgrid:true,gridcolor:'#F2F2F2',gridwidth:0.6},
    showline:true,mirror:true,linecolor:'#666',linewidth:0.9,zeroline:false};
  layout['yaxis'+n]={domain:[Y(c.yd[1]),Y(c.yd[0])],range:c.yr,anchor:xa,tickmode:'linear',tick0:c.t0,dtick:c.dt,tickformat:c.fmt,
    ticks:'outside',ticklen:2,tickcolor:'#4D4D4D',tickfont:{size:10,color:'#4D4D4D'},
    showgrid:true,gridcolor:'#EBEBEB',gridwidth:1,minor:{dtick:c.dt/2,tick0:c.t0,showgrid:true,gridcolor:'#F2F2F2',gridwidth:0.6},
    showline:true,mirror:true,linecolor:'#666',linewidth:0.9,zeroline:false};
  annotations.push(ann(c.tp[0],c.tp[1],corrLabels[k],12.5,{xanchor:'left'}));
  annotations.push(ann(c.yt[0],c.yt[1],cellTitles[k],13.5,{textangle:-90}));
  annotations.push(ann(c.xt[0],c.xt[1],'Risk score',13.5));
});

// Panels E and F (box plots with precomputed statistics)
const HIGH='#EFC000', LOW='#2E7DD1';
function boxPanel(n,cats,stars,hq1,hmed,hq3,hlo,hhi,hout,lq1,lmed,lq3,llo,lhi,lout,off,bw,starY){
  const xa='x'+n, ya='y'+n;
  const groups=[[hq1,hmed,hq3,hlo,hhi,hout,HIGH,-off],[lq1,lmed,lq3,llo,lhi,lout,LOW,off]];
  groups.forEach(g=>{
    const pos=cats.map((_,i)=>i+g[7]);
    data.push({type:'box',x:pos,q1:g[0],median:g[1],q3:g[2],lowerfence:g[3],upperfence:g[4],width:bw,
      fillcolor:g[6],line:{color:'#3a3a3a',width:0.9},whiskerwidth:0,boxpoints:false,xaxis:xa,yaxis:ya});
    const mx=[],my=[];
    pos.forEach((p,i)=>{mx.push(p-bw/2,p+bw/2,null);my.push(g[1][i],g[1][i],null);});
    data.push({type:'scatter',mode:'lines',x:mx,y:my,xaxis:xa,yaxis:ya,line:{color:'black',width:2}});
    const ox=[],oy=[];
    g[5].forEach((arr,i)=>arr.forEach(v=>{ox.push(pos[i]);oy.push(v);}));
    data.push({type:'scatter',mode:'markers',x:ox,y:oy,xaxis:xa,yaxis:ya,marker:{color:'black',size:5.5}});
  });
  stars.forEach((s,i)=>{ if(s) annotations.push({xref:xa,yref:'paper',x:i,y:Y(starY),text:s,showarrow:false,
    font:{size:9,color:'#222',family:FONT},xanchor:'center',yanchor:'middle'}); });
}
boxPanel(11,eCats,eStars,eHighQ1,eHighMed,eHighQ3,eHighLo,eHighHi,eHighOut,eLowQ1,eLowMed,eLowQ3,eLowLo,eLowHi,eLowOut,0.2,0.35,717);
boxPanel(12,fCats,fStars,fHighQ1,fHighMed,fHighQ3,fHighLo,fHighHi,fHighOut,fLowQ1,fLowMed,fLowQ3,fLowLo,fLowHi,fLowOut,0.19,0.36,713);
layout.xaxis11={domain:[X(38.9),X(514.8)],range:[-0.6,15.6],anchor:'y11',tickmode:'array',tickvals:eCats.map((_,i)=>i),ticktext:eCats,
  tickangle:-45,tickfont:{size:9.5,color:'#1a1a1a'},ticks:'outside',ticklen:3,tickcolor:'#333',showline:true,linecolor:'#222',linewidth:1,showgrid:false,zeroline:false};
layout.yaxis11={domain:[Y(860),Y(725)],range:[-0.046,0.888],anchor:'x11',tickmode:'array',tickvals:[0,0.25,0.5,0.75],tickformat:'.2f',
  tickfont:{size:10.5,color:'#333'},ticks:'outside',ticklen:3,tickcolor:'#333',showline:true,linecolor:'#222',linewidth:1,showgrid:false,zeroline:false};
layout.xaxis12={domain:[X(577.8),X(1058)],range:[-0.6,12.6],anchor:'y12',tickmode:'array',tickvals:fCats.map((_,i)=>i),ticktext:fCats,
  tickangle:-45,tickfont:{size:9.5,color:'#1a1a1a'},ticks:'outside',ticklen:3,tickcolor:'#333',showline:true,linecolor:'#222',linewidth:1,showgrid:false,zeroline:false};
layout.yaxis12={domain:[Y(824),Y(722)],range:[0.478,0.926],anchor:'x12',tickmode:'array',tickvals:[0.5,0.6,0.7,0.8,0.9],tickformat:'.1f',
  tickfont:{size:10.5,color:'#333'},ticks:'outside',ticklen:3,tickcolor:'#333',showline:true,linecolor:'#222',linewidth:1,showgrid:false,zeroline:false};
annotations.push(ann(7,780,'Score',10.5,{textangle:-90}));
annotations.push(ann(550,772,'Score',10.5,{textangle:-90}));
// E / F legends
function riskLegend(tx,ty,hb,lb,top,bot,wt,wb){
  annotations.push(ann(tx,ty,'Risk',10.5));
  [[hb,HIGH,'high'],[lb,LOW,'low']].forEach(b=>{
    const cx=(b[0][0]+b[0][1])/2;
    shapes.push({type:'line',xref:'paper',yref:'paper',x0:X(cx),x1:X(cx),y0:Y(wt),y1:Y(wb),line:{color:'#333',width:0.9},layer:'above'});
    shapes.push({type:'rect',xref:'paper',yref:'paper',x0:X(b[0][0]),x1:X(b[0][1]),y0:Y(bot),y1:Y(top),fillcolor:b[1],line:{color:'#333',width:0.9},layer:'above'});
    shapes.push({type:'line',xref:'paper',yref:'paper',x0:X(b[0][0]),x1:X(b[0][1]),y0:Y((top+bot)/2),y1:Y((top+bot)/2),line:{color:'black',width:1.6},layer:'above'});
    annotations.push(ann(b[0][1]+4,ty,b[2],9.5,{xanchor:'left'}));
  });
}
riskLegend(237.5,703.3,[255,268],[296,309],699.3,708.3,696.5,711);
riskLegend(779,695.7,[796,809],[837,850],691.5,700,689,702.5);

// Panel G (violin + notched box + jittered points)
const gCfg=[
 {n:13,key:'immune',hi:immuneHigh,lo:immuneLow,xd:[158.3,323],yd:[938.3,1140.7],yr:[-1338,3226],tv:[-1000,0,1000,2000,3000],pt:[241.7,948.3],yt:[79,1040],vw:[0.92,0.76]},
 {n:14,key:'stromal',hi:stromalHigh,lo:stromalLow,xd:[477.3,656.7],yd:[925,1142.3],yr:[-2111,2702],tv:[-2000,-1000,0,1000,2000],pt:[565,935],yt:[391.7,1033],vw:[0.94,0.77]},
 {n:15,key:'estimate',hi:estimateHigh,lo:estimateLow,xd:[826.7,1005],yd:[925,1140.7],yr:[-3187,5328],tv:[-2500,0,2500,5000],pt:[915,935],yt:[741.7,1031.7],vw:[0.9,0.91]}
];
const violinFill=['#F7DE84','#A9C9EE'], boxFill=['#EDC23A','#3D84D6'], pointFill=['#F2C200','#2F7FD4'];
gCfg.forEach((g,k)=>{
  const xa='x'+g.n, ya='y'+g.n;
  [g.hi,g.lo].forEach((vals,j)=>{
    data.push({type:'violin',x0:gCats[j],y:vals,xaxis:xa,yaxis:ya,fillcolor:violinFill[j],line:{color:'black',width:1.3},
      points:false,spanmode:'hard',width:g.vw[j],scalemode:'width',box:{visible:false},meanline:{visible:false}});
  });
  [0,1].forEach(j=>{
    data.push({type:'box',x:[gCats[j]],q1:[gQ1[g.key][j]],median:[gMed[g.key][j]],q3:[gQ3[g.key][j]],
      lowerfence:[gLoW[g.key][j]],upperfence:[gHiW[g.key][j]],notched:true,notchspan:[gNotch[g.key][j]],notchwidth:0.45,
      width:0.75,fillcolor:boxFill[j],line:{color:'black',width:1.5},boxpoints:false,whiskerwidth:0,xaxis:xa,yaxis:ya});
  });
  [g.hi,g.lo].forEach((vals,j)=>{
    data.push({type:'box',x0:gCats[j],y:vals,xaxis:xa,yaxis:ya,boxpoints:'all',jitter:1,pointpos:0,width:0.55,
      fillcolor:'rgba(0,0,0,0)',line:{color:'rgba(0,0,0,0)',width:0},whiskerwidth:0,
      marker:{color:pointFill[j],size:8,line:{color:'#2b2b2b',width:0.8}}});
  });
  layout['xaxis'+g.n]={domain:[X(g.xd[0]),X(g.xd[1])],type:'category',categoryorder:'array',categoryarray:gCats,range:[-0.6,1.6],anchor:ya,
    showticklabels:false,ticks:'outside',ticklen:4,tickcolor:'black',tickwidth:1.2,showline:true,linecolor:'black',linewidth:1.6,showgrid:false,zeroline:false};
  layout['yaxis'+g.n]={domain:[Y(g.yd[1]),Y(g.yd[0])],range:g.yr,anchor:xa,tickmode:'array',tickvals:g.tv,
    ticks:'outside',ticklen:5,tickcolor:'black',tickwidth:1.2,tickfont:{size:18,color:'#404040'},showline:true,linecolor:'black',linewidth:1.6,showgrid:false,zeroline:false};
  gCats.forEach((c,j)=>annotations.push({xref:xa,yref:'paper',x:j,y:Y(1160.5),text:'<b>'+c+'</b>',showarrow:false,
    font:{size:18,color:'black',family:FONT},xanchor:'center',yanchor:'middle'}));
  annotations.push(ann(g.pt[0],g.pt[1],gPvals[k],26));
  annotations.push(ann(g.yt[0],g.yt[1],gTitles[k],20,{textangle:-90}));
});

// panel letters
[['A',26,24],['B',400,22.5],['C',401,229],['D',400,465],['E',21,707],['F',551,714],['G',77,947]].forEach(p=>{
  annotations.push(ann(p[1],p[2],'<b>'+p[0]+'</b>',25));
});

layout.shapes=shapes;
layout.annotations=annotations;
Plotly.newPlot('chart',data,layout,{staticPlot:true,displayModeBar:false});
</script>
</body></html>
